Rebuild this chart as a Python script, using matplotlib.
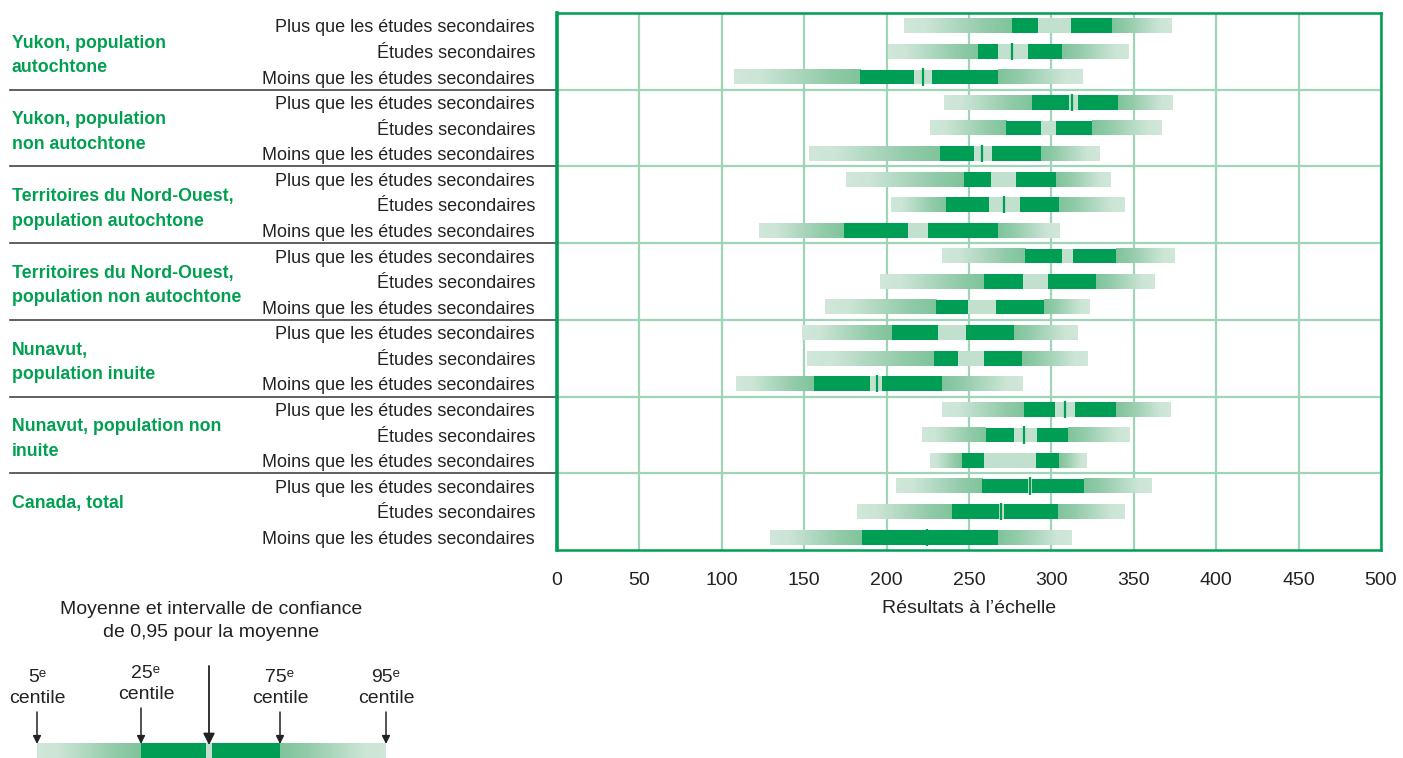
import numpy as np
import matplotlib
matplotlib.use("Agg")
import matplotlib.pyplot as plt
from matplotlib.colors import LinearSegmentedColormap

plt.rcParams['font.family'] = ['Liberation Sans', 'DejaVu Sans']

# groups and rows (top to bottom)
groups = [
    "Yukon, population\nautochtone",
    "Yukon, population\nnon autochtone",
    "Territoires du Nord-Ouest,\npopulation autochtone",
    "Territoires du Nord-Ouest,\npopulation non autochtone",
    "Nunavut,\npopulation inuite",
    "Nunavut, population non\ninuite",
    "Canada, total",
]
levels = ["Plus que les études secondaires", "Études secondaires",
          "Moins que les études secondaires"]

# percentiles and confidence interval of the mean, one value per row
p5 = [210.6, 200.8, 107.4, 234.8, 226.3, 152.9, 175.4, 202.7, 122.6, 233.6, 196.0,
      162.6, 148.7, 151.7, 108.6, 233.6, 221.5, 226.3, 205.7, 182.0, 129.2]
p25 = [276.1, 255.5, 183.9, 288.2, 272.5, 232.4, 247.0, 236.0, 174.2, 284.0, 259.1,
       230.0, 203.3, 228.8, 155.9, 283.4, 260.3, 245.8, 257.9, 239.7, 185.1]
ci_lo = [291.9, 267.6, 216.6, 310.5, 293.7, 253.0, 263.3, 262.1, 213.0, 306.4, 282.8,
         249.4, 231.2, 243.3, 189.9, 302.2, 277.3, 259.1, 285.8, 268.2, 223.9]
ci_hi = [311.9, 285.8, 227.5, 316.1, 302.8, 264.0, 278.5, 280.9, 225.1, 313.1, 297.9,
         266.4, 248.2, 259.1, 197.2, 314.3, 291.3, 290.7, 288.2, 271.2, 225.1]
p75 = [336.8, 306.4, 267.6, 340.4, 324.6, 293.7, 302.8, 304.6, 267.6, 339.2, 327.1,
       295.5, 277.3, 282.2, 233.6, 339.2, 310.1, 304.6, 319.8, 304.0, 267.6]
p95 = [373.2, 346.5, 318.6, 373.2, 366.5, 329.5, 335.6, 344.1, 305.2, 374.4, 362.3,
       323.4, 316.1, 322.2, 282.2, 372.0, 347.7, 321.0, 361.0, 344.1, 312.5]
# mean marker (only where it shows in the source)
means = [None, 276.3, 221.9, 312.5, None, 258.1, None, 271.4, None, None, None,
         None, None, None, 194.2, 308.1, 283.4, None, 287.0, 269.4, 224.5]

xticks = [0, 50, 100, 150, 200, 250, 300, 350, 400, 450, 500]

DARK = '#009e55'
CI = '#c2e0ce'
GRID = '#a0d4b6'
grad_up = LinearSegmentedColormap.from_list(
    'up', [(0, '#d0e7d9'), (0.2, '#cce5d6'), (0.75, '#92cba9'), (1, '#7fc49b')])
grad_down = grad_up.reversed()
ramp = np.linspace(0, 1, 256).reshape(1, -1)

W, H = 1403, 758
fig = plt.figure(figsize=(W / 100, H / 100), dpi=100)
ax = fig.add_axes([557 / W, 1 - 550 / H, 824 / W, 537 / H])

n = len(p5)
bh = 0.58


def draw_bar(a, y, v5, v25, lo, hi, v75, v95, h, mean=None):
    a.imshow(ramp, cmap=grad_up, extent=(v5, v25, y + h / 2, y - h / 2),
             aspect='auto', zorder=2, interpolation='bilinear')
    a.imshow(ramp, cmap=grad_down, extent=(v75, v95, y + h / 2, y - h / 2),
             aspect='auto', zorder=2, interpolation='bilinear')
    a.barh(y, lo - v25, left=v25, height=h, color=DARK, zorder=3, linewidth=0)
    a.barh(y, hi - lo, left=lo, height=h, color=CI, zorder=3, linewidth=0)
    a.barh(y, v75 - hi, left=hi, height=h, color=DARK, zorder=3, linewidth=0)
    if mean is not None:
        a.vlines(mean, y - h / 2 - 0.05, y + h / 2 + 0.05, color=DARK, lw=1.6, zorder=4)


for i in range(n):
    draw_bar(ax, i + 0.5, p5[i], p25[i], ci_lo[i], ci_hi[i], p75[i], p95[i], bh, means[i])

ax.set_xlim(0, 500)
ax.set_ylim(n, 0)
ax.set_xticks(xticks)
ax.set_yticks([])
ax.grid(axis='x', color=GRID, lw=1.6)
ax.set_axisbelow(True)
for g in range(1, len(groups)):
    ax.axhline(3 * g, color=GRID, lw=1.6, zorder=1)
for s in ax.spines.values():
    s.set_color(DARK)
    s.set_linewidth(1.8)
ax.spines['left'].set_linewidth(2.6)
ax.tick_params(axis='x', length=0, pad=16, labelsize=14, labelcolor='#222222')
ax.set_xlabel("Résultats à l’échelle", fontsize=14, color='#222222', labelpad=8)

# row labels, group labels and separators on the left
tr = ax.get_yaxis_transform()
for i in range(n):
    ax.text(-22 / 824, i + 0.5 + 0.26, levels[i % 3], transform=tr, ha='right',
            va='baseline', fontsize=13, color='#222222')
for g, name in enumerate(groups):
    ax.text(-545 / 824, 3 * g + 0.85, name, transform=tr, ha='left', va='top',
            fontsize=12.8, fontweight='bold', color='#00a050', linespacing=1.58)
    if g > 0:
        ax.plot([-547 / 824, 0], [3 * g, 3 * g], transform=tr, color='#444444',
                lw=1.2, clip_on=False)

# key at the bottom left (pixel units)
lg = fig.add_axes([0, 0, 450 / W, 170 / H])
lg.set_xlim(0, 450)
lg.set_ylim(170, 0)
lg.axis('off')
key_x = [37, 141, 206, 212, 280, 386]
key_y = 163
draw_bar(lg, key_y, key_x[0], key_x[1], key_x[2], key_x[3], key_x[4], key_x[5], 16)
lg.text(211, 33, "Moyenne et intervalle de confiance\nde 0,95 pour la moyenne",
        ha='center', va='center', fontsize=14, color='#222222', linespacing=1.45)
key_labels = [("5ᵉ\ncentile", 37, 100), ("25ᵉ\ncentile", 146, 96),
              ("75ᵉ\ncentile", 280, 100), ("95ᵉ\ncentile", 386, 100)]
for txt, x, y in key_labels:
    lg.text(x, y, txt, ha='center', va='center', fontsize=14, color='#222222',
            linespacing=1.35)
for x, y0 in [(37, 124), (141, 120), (280, 124), (386, 124)]:
    lg.annotate('', xy=(x, 156), xytext=(x, y0),
                arrowprops=dict(arrowstyle='-|>', color='#222222', lw=1.1,
                                mutation_scale=12, shrinkA=0, shrinkB=0))
lg.annotate('', xy=(209, 157), xytext=(209, 78),
            arrowprops=dict(arrowstyle='-|>', color='#222222', lw=1.3,
                            mutation_scale=17, shrinkA=0, shrinkB=0))

fig.savefig("out.png", dpi=100)
